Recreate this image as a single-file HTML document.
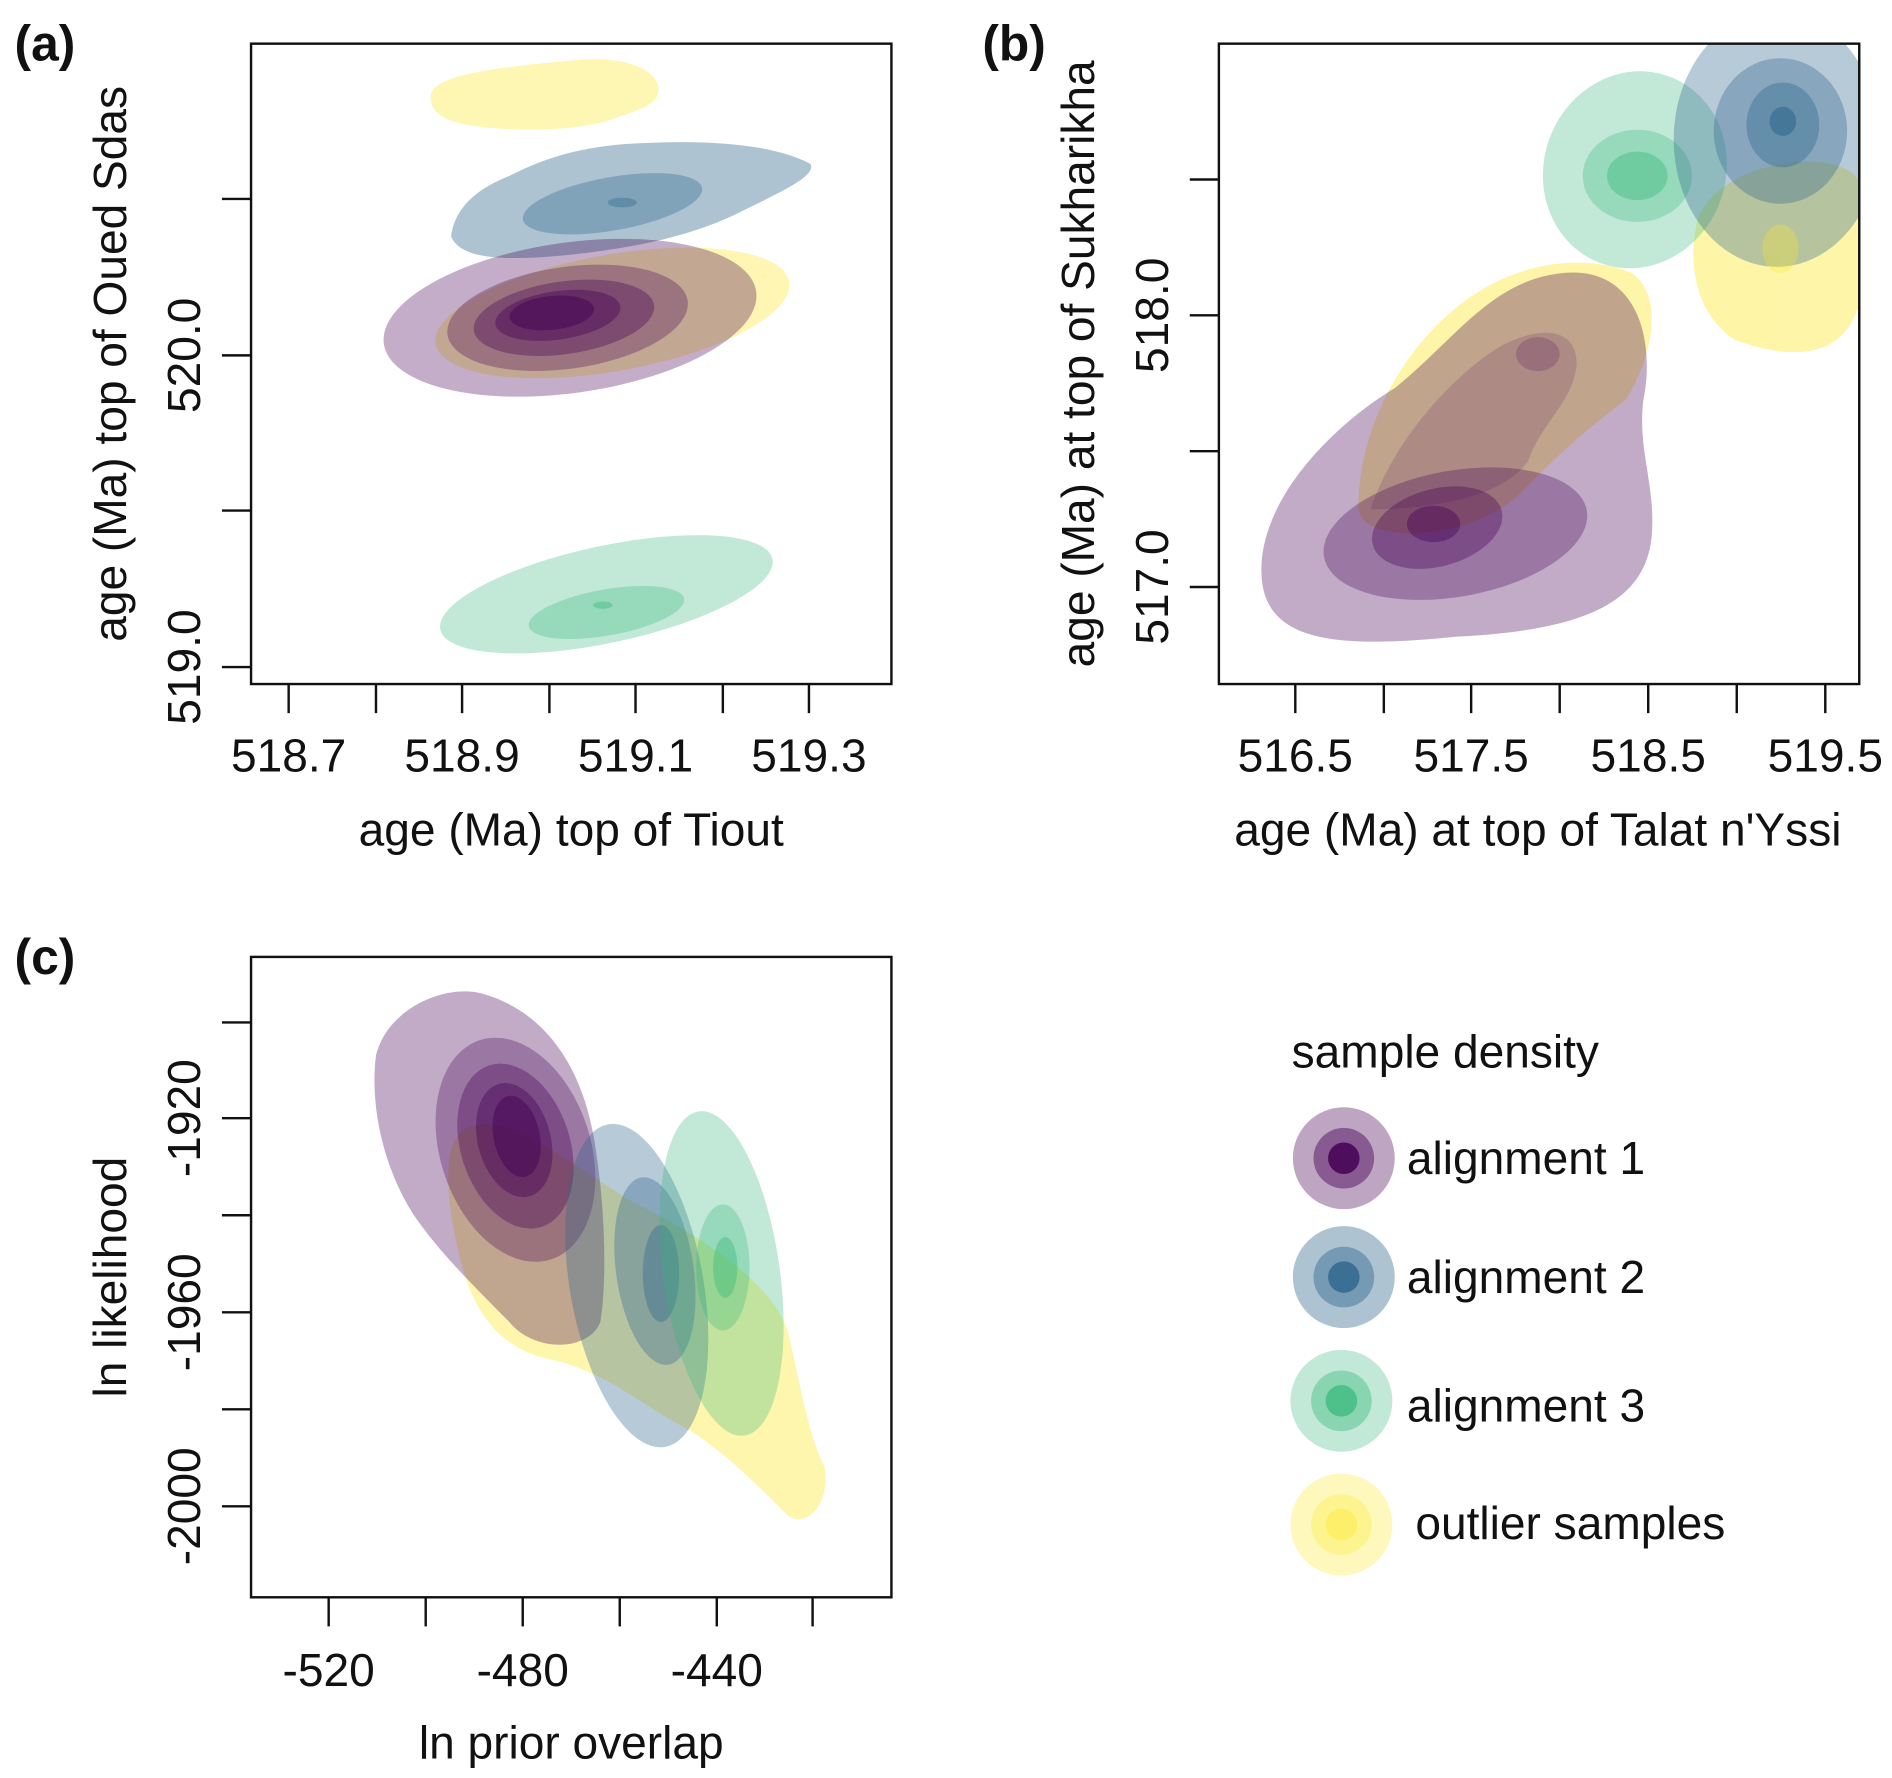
<!DOCTYPE html>
<html><head><meta charset="utf-8"><style>
html,body{margin:0;padding:0;background:#fff;}
svg{display:block;}
text{font-family:"Liberation Sans",Arial,sans-serif;fill:#111;}
</style></head><body>
<svg width="1892" height="1778" viewBox="0 0 1560 1466" preserveAspectRatio="none" xmlns="http://www.w3.org/2000/svg">
<defs>
<clipPath id="ca"><rect x="207" y="36" width="528" height="528"/></clipPath>
<clipPath id="cb"><rect x="1005" y="36" width="528" height="528"/></clipPath>
<clipPath id="cc"><rect x="207" y="789" width="528" height="528"/></clipPath>
</defs>

<!-- Panel a -->
<g clip-path="url(#ca)">
<g fill="#fde725" opacity="0.35">
<path d="M355 80 C355 60 420 55 470 50 C510 45 540 55 543 72 C545 88 520 92 500 100 C470 108 430 108 400 105 C370 102 355 95 355 80 Z"/>
<ellipse cx="505" cy="258" rx="148" ry="48" transform="rotate(-10 505 258)"/>
</g>
<g fill="#31688e">
<path d="M372 195 C375 170 395 155 420 145 C450 130 480 120 530 118 C590 115 640 120 668 135 C675 145 640 160 610 175 C570 195 520 205 470 210 C420 215 380 215 372 195 Z" opacity="0.4"/>
<ellipse cx="505" cy="168" rx="75" ry="22" transform="rotate(-10 505 168)" opacity="0.35"/>
<ellipse cx="513" cy="167" rx="12" ry="4" opacity="0.4"/>
</g>
<g fill="#440154">
<ellipse cx="470" cy="262" rx="155" ry="62" transform="rotate(-8 470 262)" opacity="0.32"/>
<ellipse cx="468" cy="262" rx="100" ry="42" transform="rotate(-8 468 262)" opacity="0.3"/>
<ellipse cx="465" cy="262" rx="75" ry="30" transform="rotate(-8 465 262)" opacity="0.35"/>
<ellipse cx="460" cy="260" rx="52" ry="20" transform="rotate(-8 460 260)" opacity="0.4"/>
<ellipse cx="455" cy="258" rx="35" ry="14" transform="rotate(-6 455 258)" opacity="0.5"/>
</g>
<g fill="#35b779">
<ellipse cx="500" cy="490" rx="140" ry="40" transform="rotate(-12 500 490)" opacity="0.3"/>
<ellipse cx="500" cy="505" rx="65" ry="19" transform="rotate(-10 500 505)" opacity="0.3"/>
<ellipse cx="497" cy="499" rx="8" ry="3" opacity="0.4"/>
</g>
</g>
<rect x="207" y="36" width="528" height="528" fill="none" stroke="#111" stroke-width="2"/>
<g stroke="#111" stroke-width="2">
<line x1="183" y1="164" x2="207" y2="164"/><line x1="183" y1="293" x2="207" y2="293"/><line x1="183" y1="421" x2="207" y2="421"/><line x1="183" y1="550" x2="207" y2="550"/>
<line x1="238" y1="564" x2="238" y2="588"/><line x1="310" y1="564" x2="310" y2="588"/><line x1="381" y1="564" x2="381" y2="588"/><line x1="453" y1="564" x2="453" y2="588"/><line x1="524" y1="564" x2="524" y2="588"/><line x1="596" y1="564" x2="596" y2="588"/><line x1="667" y1="564" x2="667" y2="588"/>
</g>
<g font-size="38" text-anchor="middle">
<text x="238" y="636">518.7</text><text x="381" y="636">518.9</text><text x="524" y="636">519.1</text><text x="667" y="636">519.3</text>
<text transform="translate(165 293) rotate(-90)">520.0</text>
<text transform="translate(165 550) rotate(-90)">519.0</text>
<text x="471" y="697">age (Ma) top of Tiout</text>
<text transform="translate(104 300) rotate(-90)">age (Ma) top of Oued Sdas</text>
</g>
<text x="12" y="50" font-size="41" font-weight="bold">(a)</text>

<!-- Panel b -->
<g clip-path="url(#cb)">
<g fill="#fde725" opacity="0.4">
<path d="M1120 420 C1120 340 1170 270 1220 240 C1260 215 1310 210 1345 225 C1375 245 1360 300 1340 330 C1300 360 1280 380 1250 410 C1210 445 1125 450 1120 420 Z"/>
<path d="M1400 180 C1420 130 1520 120 1533 150 L1533 250 C1520 300 1470 295 1430 280 C1400 260 1390 220 1400 180 Z"/>
</g>
<g fill="#440154">
<path d="M1040 470 C1040 410 1100 350 1150 320 C1200 280 1230 230 1290 225 C1350 220 1365 280 1355 330 C1350 370 1365 400 1362 440 C1358 500 1300 520 1200 525 C1100 535 1040 530 1040 470 Z" opacity="0.33"/>
<path d="M1130 420 C1150 360 1200 310 1230 290 C1260 270 1300 265 1300 300 C1298 330 1270 350 1260 380 C1240 410 1180 420 1130 420 Z" opacity="0.15"/>
<ellipse cx="1200" cy="440" rx="110" ry="52" transform="rotate(-10 1200 440)" opacity="0.3"/>
<ellipse cx="1185" cy="435" rx="55" ry="32" transform="rotate(-15 1185 435)" opacity="0.35"/>
<ellipse cx="1182" cy="432" rx="22" ry="15" opacity="0.4"/>
</g>
<g fill="#440154" opacity="0.2"><ellipse cx="1268" cy="292" rx="18" ry="14"/></g>
<g fill="#35b779">
<ellipse cx="1348" cy="140" rx="75" ry="82" transform="rotate(20 1348 140)" opacity="0.3"/>
<ellipse cx="1350" cy="145" rx="45" ry="38" opacity="0.3"/>
<ellipse cx="1350" cy="145" rx="25" ry="20" opacity="0.4"/>
</g>
<g fill="#31688e">
<ellipse cx="1465" cy="115" rx="85" ry="105" opacity="0.35"/>
<ellipse cx="1468" cy="108" rx="55" ry="60" opacity="0.35"/>
<ellipse cx="1470" cy="103" rx="30" ry="35" opacity="0.4"/>
<ellipse cx="1470" cy="100" rx="11" ry="12" opacity="0.6"/>
</g>
<g fill="#fde725" opacity="0.3"><ellipse cx="1468" cy="205" rx="15" ry="20"/></g>
</g>
<rect x="1005" y="36" width="528" height="528" fill="none" stroke="#111" stroke-width="2"/>
<g stroke="#111" stroke-width="2">
<line x1="981" y1="148" x2="1005" y2="148"/><line x1="981" y1="260" x2="1005" y2="260"/><line x1="981" y1="372" x2="1005" y2="372"/><line x1="981" y1="484" x2="1005" y2="484"/>
<line x1="1068" y1="564" x2="1068" y2="588"/><line x1="1141" y1="564" x2="1141" y2="588"/><line x1="1213" y1="564" x2="1213" y2="588"/><line x1="1286" y1="564" x2="1286" y2="588"/><line x1="1359" y1="564" x2="1359" y2="588"/><line x1="1432" y1="564" x2="1432" y2="588"/><line x1="1505" y1="564" x2="1505" y2="588"/>
</g>
<g font-size="38" text-anchor="middle">
<text x="1068" y="636">516.5</text><text x="1213" y="636">517.5</text><text x="1359" y="636">518.5</text><text x="1505" y="636">519.5</text>
<text transform="translate(963 260) rotate(-90)">518.0</text>
<text transform="translate(963 484) rotate(-90)">517.0</text>
<text x="1268" y="697">age (Ma) at top of Talat n'Yssi</text>
<text transform="translate(902 300) rotate(-90)">age (Ma) at top of Sukharikha</text>
</g>
<text x="810" y="50" font-size="41" font-weight="bold">(b)</text>

<!-- Panel c -->
<g clip-path="url(#cc)">
<g fill="#fde725" opacity="0.38">
<path d="M375 940 C400 900 470 960 520 990 C580 1020 640 1060 650 1100 C660 1140 665 1180 680 1210 C685 1240 665 1260 650 1250 C620 1220 600 1200 570 1180 C530 1160 500 1130 450 1120 C410 1110 390 1080 380 1040 C370 1000 365 960 375 940 Z"/>
</g>
<g fill="#440154">
<path d="M310 870 C320 830 370 810 400 820 C450 835 480 880 490 940 C500 1000 500 1060 495 1090 C485 1115 440 1115 420 1090 C390 1060 360 1030 340 1000 C315 960 305 910 310 870 Z" opacity="0.33"/>
<ellipse cx="425" cy="948" rx="62" ry="95" transform="rotate(-18 425 948)" opacity="0.3"/>
<ellipse cx="425" cy="945" rx="45" ry="70" transform="rotate(-18 425 945)" opacity="0.35"/>
<ellipse cx="424" cy="940" rx="30" ry="48" transform="rotate(-15 424 940)" opacity="0.4"/>
<ellipse cx="426" cy="937" rx="19" ry="34" transform="rotate(-12 426 937)" opacity="0.5"/>
</g>
<g fill="#31688e">
<ellipse cx="525" cy="1060" rx="55" ry="135" transform="rotate(-10 525 1060)" opacity="0.35"/>
<ellipse cx="540" cy="1048" rx="32" ry="78" transform="rotate(-8 540 1048)" opacity="0.35"/>
<ellipse cx="545" cy="1050" rx="15" ry="40" opacity="0.4"/>
</g>
<g fill="#35b779">
<ellipse cx="595" cy="1050" rx="48" ry="135" transform="rotate(-8 595 1050)" opacity="0.3"/>
<ellipse cx="596" cy="1045" rx="22" ry="52" opacity="0.3"/>
<ellipse cx="598" cy="1045" rx="10" ry="25" opacity="0.4"/>
</g>
</g>
<rect x="207" y="789" width="528" height="528" fill="none" stroke="#111" stroke-width="2"/>
<g stroke="#111" stroke-width="2">
<line x1="183" y1="843" x2="207" y2="843"/><line x1="183" y1="922" x2="207" y2="922"/><line x1="183" y1="1002" x2="207" y2="1002"/><line x1="183" y1="1082" x2="207" y2="1082"/><line x1="183" y1="1162" x2="207" y2="1162"/><line x1="183" y1="1242" x2="207" y2="1242"/>
<line x1="271" y1="1317" x2="271" y2="1341"/><line x1="351" y1="1317" x2="351" y2="1341"/><line x1="431" y1="1317" x2="431" y2="1341"/><line x1="511" y1="1317" x2="511" y2="1341"/><line x1="591" y1="1317" x2="591" y2="1341"/><line x1="670" y1="1317" x2="670" y2="1341"/>
</g>
<g font-size="38" text-anchor="middle">
<text x="271" y="1390">-520</text><text x="431" y="1390">-480</text><text x="591" y="1390">-440</text>
<text transform="translate(165 922) rotate(-90)">-1920</text>
<text transform="translate(165 1082) rotate(-90)">-1960</text>
<text transform="translate(165 1242) rotate(-90)">-2000</text>
<text x="471" y="1450">ln prior overlap</text>
<text transform="translate(104 1053) rotate(-90)">ln likelihood</text>
</g>
<text x="12" y="803" font-size="41" font-weight="bold">(c)</text>

<!-- Legend -->
<text x="1065" y="880" font-size="38">sample density</text>
<g>
<circle cx="1108" cy="955" r="42" fill="#440154" opacity="0.35"/><circle cx="1108" cy="955" r="25" fill="#440154" opacity="0.45"/><circle cx="1108" cy="955" r="13" fill="#440154" opacity="0.85"/>
<circle cx="1108" cy="1053" r="42" fill="#31688e" opacity="0.4"/><circle cx="1108" cy="1053" r="25" fill="#31688e" opacity="0.45"/><circle cx="1108" cy="1053" r="13" fill="#31688e" opacity="0.85"/>
<circle cx="1106" cy="1155" r="42" fill="#35b779" opacity="0.3"/><circle cx="1106" cy="1155" r="25" fill="#35b779" opacity="0.4"/><circle cx="1106" cy="1155" r="13" fill="#35b779" opacity="0.7"/>
<circle cx="1106" cy="1257" r="42" fill="#fde725" opacity="0.3"/><circle cx="1106" cy="1257" r="25" fill="#fde725" opacity="0.3"/><circle cx="1106" cy="1257" r="13" fill="#fde725" opacity="0.35"/>
</g>
<g font-size="38">
<text x="1160" y="968">alignment 1</text>
<text x="1160" y="1066">alignment 2</text>
<text x="1160" y="1172">alignment 3</text>
<text x="1167" y="1269">outlier samples</text>
</g>
</svg>
</body></html>
